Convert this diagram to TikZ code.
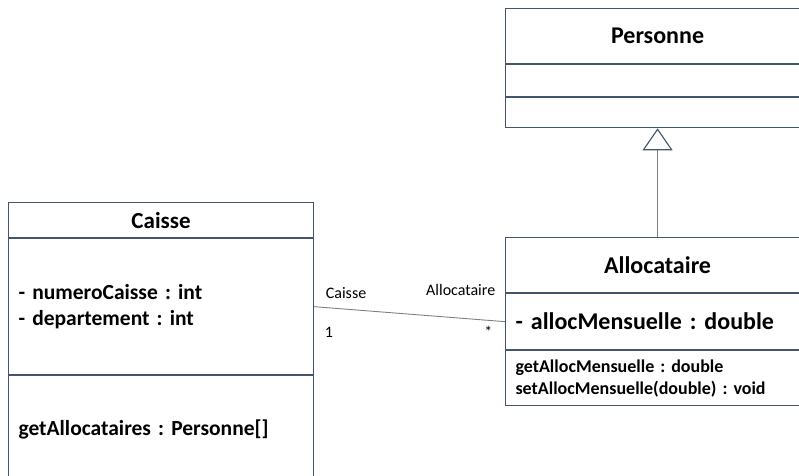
\documentclass[tikz,border=0pt]{standalone}
\usepackage{fontspec}
\setmainfont{Carlito}
\usepackage{xcolor}
\usepackage{tikz}
\usetikzlibrary{arrows.meta,positioning}
\definecolor{boxcol}{RGB}{68,84,106}
\definecolor{linecol}{RGB}{128,128,128}
\frenchspacing

\begin{document}
\begin{tikzpicture}[
  x=1pt, y=-1pt,
  classhead/.style={draw=boxcol, line width=1.1pt, minimum width=304pt, inner sep=0pt, font=\bfseries\fontsize{24}{29}\selectfont},
  compart/.style={draw=boxcol, line width=1.1pt, inner xsep=10pt, inner ysep=0pt, text width=284pt, align=left, font=\bfseries\fontsize{18}{22}\selectfont},
  assoc/.style={draw=linecol, line width=0.9pt},
  inherit/.style={draw=linecol, line width=0.9pt, -{Triangle[open, length=22pt, width=30pt, line width=1.1pt, color=boxcol]}},
  role/.style={font=\fontsize{16}{19}\selectfont}
]
\useasboundingbox (0,0) rectangle (799,475);
\clip (0,0) rectangle (799,475);

\node[classhead, minimum height=55pt, anchor=north west] (ptitle) at (505,8) {Personne};
\node[compart, minimum height=32pt, below=0pt of ptitle] (pattr) {};
\node[compart, minimum height=30pt, below=0pt of pattr] (pmeth) {};

\node[classhead, minimum height=55pt, anchor=north west] (atitle) at (505,237) {Allocataire};
\node[compart, minimum height=56pt, below=0pt of atitle, font=\bfseries\fontsize{24}{29}\selectfont] (aattr) {- allocMensuelle : double};
\node[compart, minimum height=55pt, below=0pt of aattr] (ameth) {getAllocMensuelle : double\\setAllocMensuelle(double) : void};

\node[classhead, minimum width=305pt, minimum height=35pt, anchor=north west, font=\bfseries\fontsize{23}{28}\selectfont] (ctitle) at (8,202) {Caisse};
\node[compart, text width=285pt, minimum height=136pt, below=0pt of ctitle, font=\bfseries\fontsize{21.5}{26}\selectfont] (cattr) {- numeroCaisse : int\\- departement : int};
\node[compart, text width=285pt, minimum height=107pt, below=0pt of cattr, font=\bfseries\fontsize{21.5}{26}\selectfont] (cmeth) {getAllocataires : Personne[]};

\draw[inherit] (atitle.north) -- (pmeth.south);
\draw[assoc] (cattr.east) -- (aattr.west)
  node[role, pos=0, anchor=south west, xshift=8pt, yshift=4pt] {Caisse}
  node[role, pos=0, anchor=north west, xshift=7pt, yshift=-17pt] {1}
  node[role, pos=1, anchor=south east, xshift=-6pt, yshift=22pt] {Allocataire}
  node[role, pos=1, anchor=north east, xshift=-9pt, yshift=-1pt] {*};
\end{tikzpicture}
\end{document}
